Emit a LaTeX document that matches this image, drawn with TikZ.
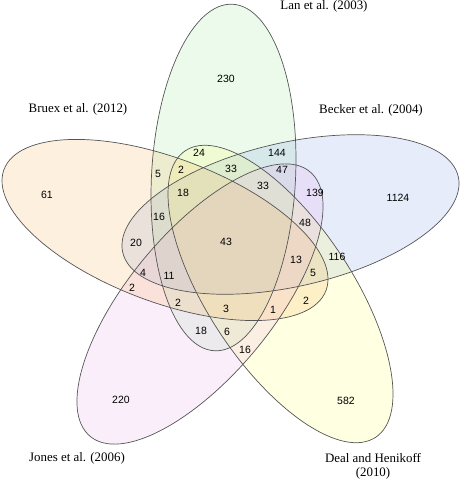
\documentclass[tikz,border=0pt]{standalone}
\usepackage{fontspec}
\setmainfont{Liberation Serif}
\newfontfamily\numfont{Liberation Sans}

\definecolor{lancol}{RGB}{160,230,160}
\definecolor{beckercol}{RGB}{130,160,230}
\definecolor{dealcol}{RGB}{255,255,105}
\definecolor{jonescol}{RGB}{235,170,235}
\definecolor{bruexcol}{RGB}{245,180,90}
\definecolor{edgecol}{RGB}{85,85,85}

\begin{document}
\begin{tikzpicture}[x=1pt, y=1pt,
    setfill/.style={fill opacity=0.2},
    setline/.style={draw=edgecol, line width=0.7pt},
    num/.style={font=\numfont\fontsize{10.5}{12}\selectfont, inner sep=1pt},
    study/.style={font=\fontsize{12.9}{14}\selectfont, inner sep=0pt, align=center}]
    \useasboundingbox (0,0) rectangle (461,481);

    % the five sets
    \fill[setfill, lancol, rotate around={87:(223.5,303.5)}] (223.5,303.5) ellipse (173.5 and 72);
    \fill[setfill, beckercol, rotate around={12.7:(290.5,266.5)}] (290.5,266.5) ellipse (172 and 72);
    \fill[setfill, dealcol, rotate around={-56.4:(280.5,187)}] (280.5,187) ellipse (172 and 72);
    \fill[setfill, jonescol, rotate around={50.3:(200,177)}] (200,177) ellipse (172 and 72);
    \fill[setfill, bruexcol, rotate around={-20.6:(165,251)}] (165,251) ellipse (172 and 72);

    \draw[setline, rotate around={87:(223.5,303.5)}] (223.5,303.5) ellipse (173.5 and 72);
    \draw[setline, rotate around={12.7:(290.5,266.5)}] (290.5,266.5) ellipse (172 and 72);
    \draw[setline, rotate around={-56.4:(280.5,187)}] (280.5,187) ellipse (172 and 72);
    \draw[setline, rotate around={50.3:(200,177)}] (200,177) ellipse (172 and 72);
    \draw[setline, rotate around={-20.6:(165,251)}] (165,251) ellipse (172 and 72);

    % study names
    \node[study] (lan) at (324,475) {Lan et al. (2003)};
    \node[study] (becker) at (371,371) {Becker et al. (2004)};
    \node[study] (bruex) at (78,372) {Bruex et al. (2012)};
    \node[study] (jones) at (77,23) {Jones et al. (2006)};
    \node[study] (deal) at (373,15) {Deal and Henikoff\\(2010)};

    % counts, outer regions
    \node[num] (v230) at (226,402) {230};
    \node[num] (v1124) at (398,283) {1124};
    \node[num] (v582) at (346,80) {582};
    \node[num] (v220) at (121,81) {220};
    \node[num] (v61) at (47,286) {61};

    % counts, inner regions
    \node[num] (v24) at (199,328) {24};
    \node[num] (v2a) at (181,311) {2};
    \node[num] (v5a) at (158,307) {5};
    \node[num] (v33a) at (231,312) {33};
    \node[num] (v144) at (277,328) {144};
    \node[num] (v47) at (282,311) {47};
    \node[num] (v33b) at (263,295) {33};
    \node[num] (v139) at (315,288) {139};
    \node[num] (v18a) at (183,288) {18};
    \node[num] (v16a) at (159,264) {16};
    \node[num] (v48) at (305,258) {48};
    \node[num] (v43) at (226,239) {43};
    \node[num] (v20) at (136,238) {20};
    \node[num] (v13) at (296,221) {13};
    \node[num] (v116) at (337,224) {116};
    \node[num] (v5b) at (313,208) {5};
    \node[num] (v4) at (143,208) {4};
    \node[num] (v11) at (169,205) {11};
    \node[num] (v2b) at (132,193) {2};
    \node[num] (v2c) at (178,178) {2};
    \node[num] (v3) at (226,172) {3};
    \node[num] (v1) at (273,171) {1};
    \node[num] (v2d) at (306,180) {2};
    \node[num] (v18b) at (201,150) {18};
    \node[num] (v6) at (227,149) {6};
    \node[num] (v16b) at (245,131) {16};
\end{tikzpicture}
\end{document}
